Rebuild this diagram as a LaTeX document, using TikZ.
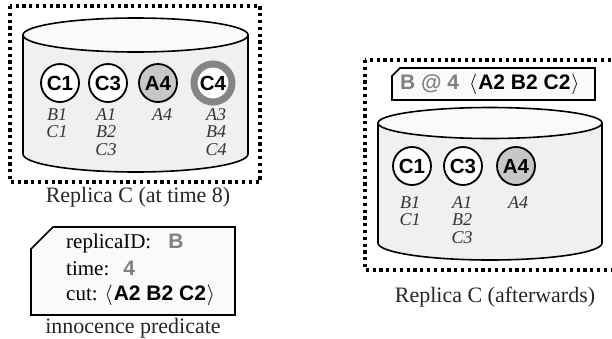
\documentclass[tikz,border=0pt]{standalone}
\usepackage{fontspec}
\setmainfont{Liberation Serif}
\setsansfont{Liberation Sans}
\usetikzlibrary{positioning}

\begin{document}
\begin{tikzpicture}[
		x=1pt, y=-1pt,
		every node/.style={inner sep=0pt},
		frame/.style={line width=3.2pt, dash pattern=on 3.2pt off 3.6pt},
		drum/.style={draw, line width=1.6pt, fill=black!6},
		lid/.style={draw, line width=1.6pt, fill=black!2},
		evt/.style={circle, draw, line width=1.8pt, fill=white, minimum size=38pt,
			font=\fontsize{20.5}{20.5}\selectfont\sffamily\bfseries},
		seen/.style={evt, fill=black!22},
		fresh/.style={evt, draw=black!48, line width=7pt},
		deps/.style={anchor=north, align=center, text=black!80,
			font=\fontsize{18}{17.5}\selectfont\itshape},
		caption/.style={text=black!85, font=\fontsize{22}{22}\selectfont},
		tag/.style={draw, line width=1.6pt, fill=black!2},
		field/.style={anchor=west, font=\fontsize{21}{21}\selectfont}
	]
	\useasboundingbox (0,0) rectangle (612,338);

	% replica C at time 8
	\draw[frame] (10,6) rectangle (260,182);
	\path[drum] (23,35) -- (23,154) arc[start angle=180, end angle=0, x radius=112.5, y radius=18] -- (248,35) -- cycle;
	\draw[lid] (135.5,35) ellipse[x radius=112.5, y radius=17];

	\node[evt]   (l1) at (60,83)  {C1};
	\node[evt]   (l3) at (108,83) {C3};
	\node[seen]  (l4) at (158,83) {A4};
	\node[fresh] (l9) at (213,83) {C4};

	\node[deps] (d1) at (57,108)  {B1\\C1};
	\node[deps] (d3) at (106,108) {A1\\B2\\C3};
	\node[deps] (d4) at (162,108) {A4};
	\node[deps] (d9) at (216,108) {A3\\B4\\C4};

	\node[caption] (capl) at (138,197) {Replica C (at time 8)};

	% innocence predicate
	\draw[tag] (53,227) -- (235,227) -- (235,315) -- (31,315) -- (31,249) -- cycle;
	\node[field] (rid) at (66,243) {replicaID:\hspace{17pt}{\sffamily\bfseries\color{black!50}B}};
	\node[field] (tim) at (66,268) {time:\hspace{14pt}{\sffamily\bfseries\color{black!50}4}};
	\node[field] (cut) at (66,295) {cut: $\bigl\langle$\hspace{1pt}{\sffamily\bfseries A2 B2 C2}\hspace{1pt}$\bigr\rangle$};
	\node[caption] (capp) at (133,328) {innocence predicate};

	% replica C afterwards
	\draw[frame] (365,60) rectangle (618,270);
	\draw[tag] (400,68) -- (595,68) -- (595,100) -- (392,100) -- (392,76) -- cycle;
	\node[field] (stamp) at (400,84) {{\sffamily\bfseries\color{black!50}B @ 4}\hspace{10pt}$\bigl\langle$\hspace{1pt}{\sffamily\bfseries A2 B2 C2}\hspace{1pt}$\bigr\rangle$};

	\path[drum] (378,123) -- (378,243) arc[start angle=180, end angle=0, x radius=112, y radius=17] -- (602,123) -- cycle;
	\draw[lid] (490,123) ellipse[x radius=112, y radius=15.5];

	\node[evt]  (r1) at (412,166) {C1};
	\node[evt]  (r3) at (463,166) {C3};
	\node[seen] (r4) at (516,166) {A4};

	\node[deps] (e1) at (410,196) {B1\\C1};
	\node[deps] (e3) at (462,196) {A1\\B2\\C3};
	\node[deps] (e4) at (518,196) {A4};

	\node[caption] (capr) at (495,297) {Replica C (afterwards)};
\end{tikzpicture}
\end{document}
